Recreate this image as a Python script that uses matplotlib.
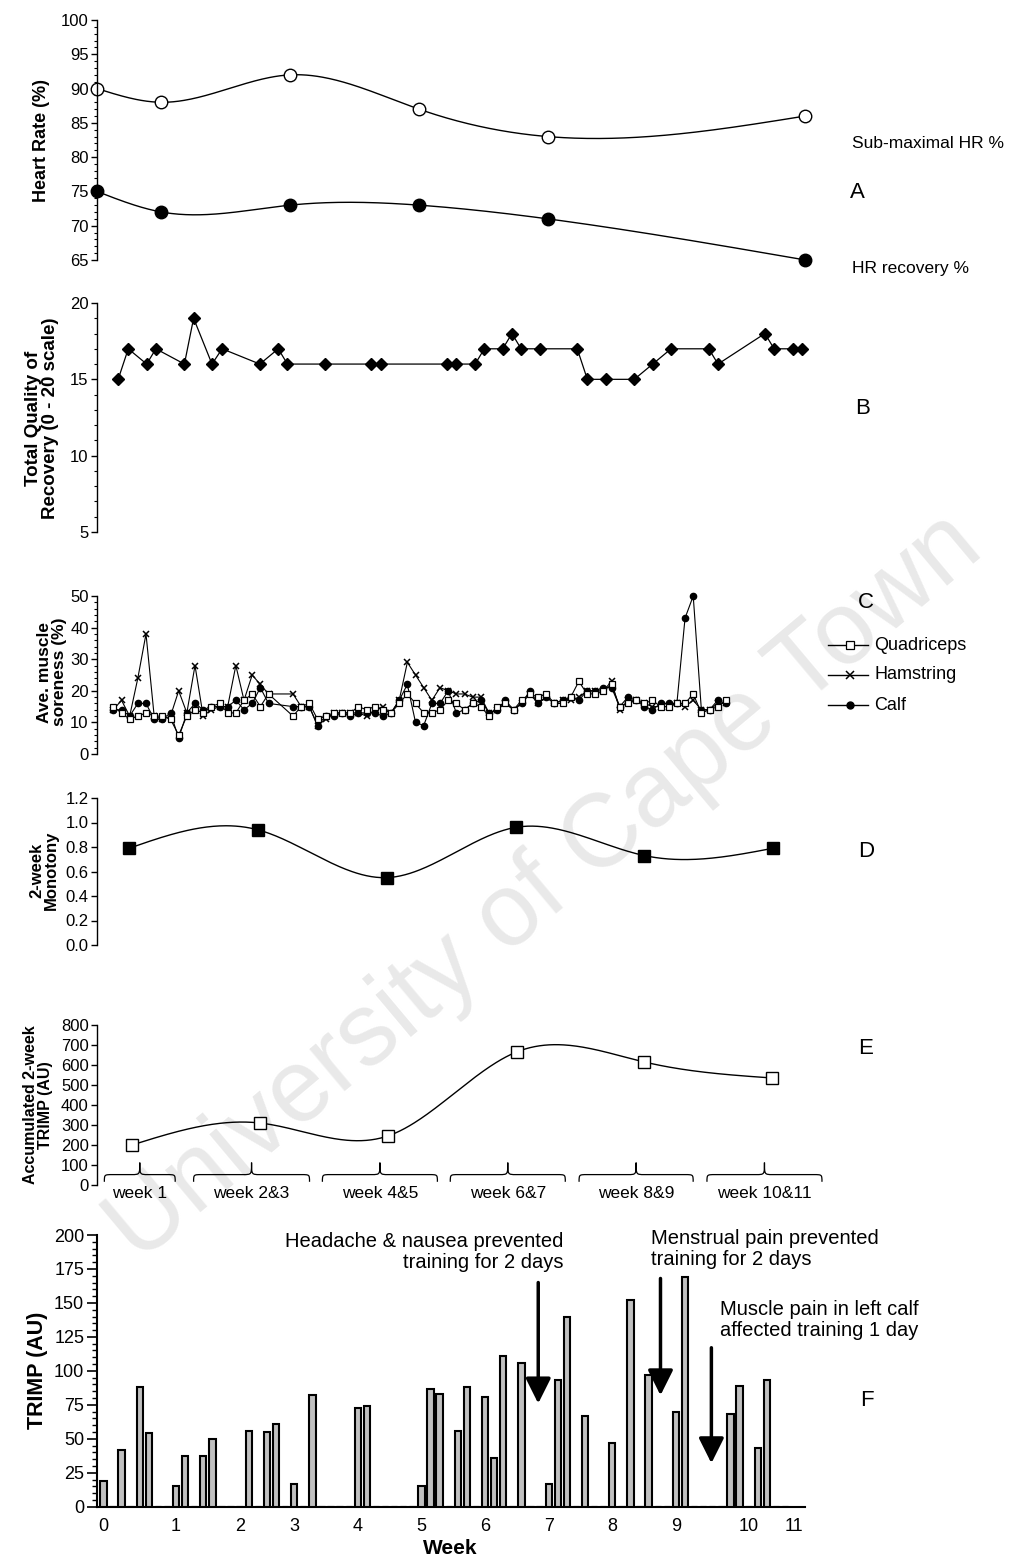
import numpy as np
import matplotlib
matplotlib.use('Agg')
import matplotlib.pyplot as plt
from matplotlib.path import Path
from matplotlib.patches import PathPatch
from matplotlib.ticker import MultipleLocator, FixedLocator, NullLocator
import matplotlib.transforms as mtransforms
from matplotlib.lines import Line2D

W, H = 1019, 1562
NARROW = ['Liberation Sans Narrow', 'Liberation Sans', 'DejaVu Sans']
SANS = ['Liberation Sans', 'DejaVu Sans']
plt.rcParams['font.family'] = SANS

# ---------------- data ----------------
# Panel A : heart rate tests (day of programme)
hr_days = [0, 7, 21, 35, 49, 77]
hr_submax = [90, 88, 92, 87, 83, 86]
hr_recovery = [75, 72, 73, 73, 71, 65]

# Panel B : total quality of recovery
tqr_days = [2.3, 3.4, 5.4, 6.4, 9.5, 10.5, 12.5, 13.6, 17.7, 19.7, 20.7, 24.8,
            29.8, 30.9, 38.0, 39.0, 41.1, 42.1, 44.1, 45.1, 46.1, 48.1, 52.2,
            53.3, 55.3, 58.4, 60.4, 62.4, 66.5, 67.5, 72.6, 73.6, 75.6, 76.6]
tqr_values = [15, 17, 16, 17, 16, 19, 16, 17, 16, 17, 16, 16, 16, 16, 16, 16, 16,
              17, 17, 18, 17, 17, 17, 15, 15, 15, 16, 17, 17, 16, 18, 17, 17, 17]

# Panel C : muscle soreness
sore_days = list(range(0, 20)) + list(range(22, 76))
quadriceps = [15, 13, 11, 12, 13, 12, 12, 11, 6, 12, 14, 13, 15, 16, 13, 13, 17, 19, 15, 19,
              12, 15, 16, 11, 12, 13, 13, 13, 15, 14, 15, 14, 13, 16, 19, 16, 13, 13, 14, 17,
              16, 14, 16, 15, 12, 15, 16, 14, 17, 19, 18, 19, 16, 16, 18, 23, 19, 19, 20, 22,
              15, 16, 17, 16, 17, 15, 15, 16, 16, 19, 13, 14, 15, 17]
hamstring = [14, 17, 12, 24, 38, 12, 11, 12, 20, 13, 28, 12, 14, 15, 15, 28, 17, 25, 22, 19,
             19, 15, 15, 9, 11, 13, 13, 13, 13, 12, 14, 15, 13, 17, 29, 25, 21, 17, 21, 20,
             19, 19, 18, 18, 13, 14, 16, 14, 16, 19, 16, 18, 16, 17, 17, 18, 20, 20, 20, 23,
             14, 17, 17, 16, 15, 15, 15, 16, 15, 17, 14, 14, 16, 16]
calf = [14, 14, 12, 16, 16, 11, 11, 13, 5, 13, 16, 14, 15, 15, 15, 17, 14, 16, 21, 16,
        15, 15, 15, 9, 12, 12, 13, 12, 13, 13, 13, 12, 13, 17, 22, 10, 9, 16, 16, 20,
        13, 14, 16, 17, 13, 14, 17, 14, 16, 20, 16, 18, 16, 17, 18, 17, 20, 20, 21, 21,
        15, 18, 17, 15, 14, 16, 16, 16, 43, 50, 14, 14, 17, 16]

# Panel D : 2-week monotony
mono_days = [3.5, 17.5, 31.5, 45.5, 59.5, 73.5]
monotony = [0.79, 0.94, 0.55, 0.96, 0.73, 0.79]

# Panel E : accumulated 2-week TRIMP
trimp2_days = [3.8, 17.7, 31.6, 45.6, 59.5, 73.4]
trimp2 = [200, 310, 245, 665, 615, 535]
block_labels = ['week 1', 'week 2&3', 'week 4&5', 'week 6&7', 'week 8&9', 'week 10&11']
block_spans = [(0.8, 8.5), (10.5, 23.1), (24.5, 37.0), (38.4, 50.9), (52.4, 64.8), (66.3, 78.8)]

# Panel F : daily TRIMP
day_slots = [0, 2, 4, 5, 8, 9, 11, 12, 16, 18, 19, 21, 23, 28, 29, 35, 36, 37, 39, 40,
             42, 43, 44, 46, 49, 50, 51, 53, 56, 58, 60, 63, 64, 69, 70, 72, 73]
daily_trimp = [19, 42, 88, 54, 15, 37, 37, 50, 56, 55, 61, 17, 82, 73, 74, 15, 87, 83, 56, 88,
               81, 36, 111, 106, 17, 93, 140, 67, 47, 152, 97, 70, 169, 68, 89, 43, 93]
n_slots = 76
week_tick_slots = [0, 8, 15, 21, 28, 35, 42, 49, 56, 63, 71, 76]
week_labels = ['0', '1', '2', '3', '4', '5', '6', '7', '8', '9', '10', '11']
events = ['Headache & nausea prevented\ntraining for 2 days',
          'Menstrual pain prevented\ntraining for 2 days',
          'Muscle pain in left calf\naffected training 1 day']


# ---------------- helpers ----------------
def rect(l, r, t, b):
    return [l / W, 1 - b / H, (r - l) / W, (b - t) / H]


def fx(x):
    return x / W


def fy(y):
    return 1 - y / H


def spline_curve(x, y, n=400):
    x = np.asarray(x, float)
    y = np.asarray(y, float)
    m = len(x)
    h = np.diff(x)
    A = np.zeros((m, m))
    r = np.zeros(m)
    A[0, 0] = A[-1, -1] = 1
    for i in range(1, m - 1):
        A[i, i - 1] = h[i - 1]
        A[i, i] = 2 * (h[i - 1] + h[i])
        A[i, i + 1] = h[i]
        r[i] = 6 * ((y[i + 1] - y[i]) / h[i] - (y[i] - y[i - 1]) / h[i - 1])
    M = np.linalg.solve(A, r)
    xs = np.linspace(x[0], x[-1], n)
    idx = np.clip(np.searchsorted(x, xs) - 1, 0, m - 2)
    x0 = x[idx]
    x1 = x[idx + 1]
    hh = x1 - x0
    t0 = x1 - xs
    t1 = xs - x0
    ys = ((M[idx] * t0 ** 3 + M[idx + 1] * t1 ** 3) / (6 * hh)
          + (y[idx] / hh - M[idx] * hh / 6) * t0
          + (y[idx + 1] / hh - M[idx + 1] * hh / 6) * t1)
    return xs, ys


def style_top(ax, ylim, major, minor=None):
    ax.set_xlim(0, 77.5)
    ax.set_ylim(*ylim)
    for s in ['top', 'right', 'bottom']:
        ax.spines[s].set_visible(False)
    ax.spines['left'].set_linewidth(1.0)
    ax.xaxis.set_major_locator(NullLocator())
    ax.yaxis.set_major_locator(MultipleLocator(major))
    if minor:
        ax.yaxis.set_minor_locator(MultipleLocator(minor))
    ax.tick_params(axis='y', which='major', direction='out', length=4.5, width=1,
                   labelsize=12, pad=1.5, labelfontfamily=NARROW)
    ax.tick_params(axis='y', which='minor', direction='out', length=2.5, width=0.8)
    ax.patch.set_visible(False)


fig = plt.figure(figsize=(W / 100, H / 100), dpi=100)

# watermark
fig.text(fx(545), fy(888), 'University of Cape Town', rotation=40, fontsize=74,
         color='#e9e9e9', ha='center', va='center', zorder=-10, family=SANS)

# ---------------- Panel A ----------------
axA = fig.add_axes(rect(97, 810, 20, 260))
style_top(axA, (65, 100), 5, 1)
xs, ys = spline_curve(hr_days, hr_submax)
axA.plot(xs, ys, color='k', lw=1, clip_on=False)
axA.plot(hr_days, hr_submax, ls='none', marker='o', ms=9, mfc='white', mec='k', mew=1, clip_on=False)
xs, ys = spline_curve(hr_days, hr_recovery)
axA.plot(xs, ys, color='k', lw=1, clip_on=False)
axA.plot(hr_days, hr_recovery, ls='none', marker='o', ms=9, mfc='black', mec='k', clip_on=False)
axA.yaxis.set_major_formatter(plt.FuncFormatter(lambda v, p: f'{v:.0f}'))

# ---------------- Panel B ----------------
axB = fig.add_axes(rect(97, 810, 303, 532))
style_top(axB, (5, 20), 5, 1)
axB.plot(tqr_days, tqr_values, color='k', lw=0.9, marker='D', ms=6.5, mfc='k', mec='k', clip_on=False)

# ---------------- Panel C ----------------
axC = fig.add_axes(rect(97, 810, 596, 754))
style_top(axC, (0, 50), 10, 2)
axC.set_xlim(-2.0, 85.3)
axC.plot(sore_days, hamstring, color='k', lw=0.8, marker='x', ms=5, mew=1.1, clip_on=False)
axC.plot(sore_days, calf, color='k', lw=0.8, marker='o', ms=4.5, mfc='k', mec='k', clip_on=False)
axC.plot(sore_days, quadriceps, color='k', lw=0.8, marker='s', ms=5, mfc='white', mec='k', mew=0.9, clip_on=False)

leg_rows = [('Quadriceps', dict(marker='s', ms=5.5, mfc='white', mec='k', mew=0.9)),
            ('Hamstring', dict(marker='x', ms=5.5, mew=1.1, color='k')),
            ('Calf', dict(marker='o', ms=5, mfc='k', mec='k'))]
for i, (lab, mk) in enumerate(leg_rows):
    yy = 645 + 30 * i
    fig.add_artist(Line2D([fx(828), fx(868)], [fy(yy), fy(yy)], transform=fig.transFigure,
                          color='k', lw=1))
    fig.add_artist(Line2D([fx(850)], [fy(yy)], transform=fig.transFigure, ls='none', **mk))
    fig.text(fx(874), fy(yy), lab, fontsize=13, va='center', ha='left', family=SANS)

# ---------------- Panel D ----------------
axD = fig.add_axes(rect(97, 810, 798, 945))
style_top(axD, (0, 1.2), 0.2)
axD.yaxis.set_major_formatter(plt.FuncFormatter(lambda v, p: f'{v:.1f}'))
xs, ys = spline_curve(mono_days, monotony)
axD.plot(xs, ys, color='k', lw=1)
axD.plot(mono_days, monotony, ls='none', marker='s', ms=9, mfc='k', mec='k')

# ---------------- Panel E ----------------
axE = fig.add_axes(rect(97, 810, 1025, 1185))
style_top(axE, (0, 800), 100)
xs, ys = spline_curve(trimp2_days, trimp2)
axE.plot(xs, ys, color='k', lw=1)
axE.plot(trimp2_days, trimp2, ls='none', marker='s', ms=9, mfc='white', mec='k', mew=1)

trE = mtransforms.blended_transform_factory(axE.transData, axE.transAxes)
y_end, y_h, y_tip = 0.02, 0.065, 0.14
for (a, b), lab in zip(block_spans, block_labels):
    m = (a + b) / 2
    r = 0.9
    verts = [(a, y_end), (a, y_h), (a, y_h), (a + r, y_h),
             (m - r, y_h),
             (m, y_h), (m, y_h), (m, y_tip),
             (m, y_h), (m, y_h), (m + r, y_h),
             (b - r, y_h),
             (b, y_h), (b, y_h), (b, y_end)]
    codes = [Path.MOVETO, Path.CURVE4, Path.CURVE4, Path.CURVE4,
             Path.LINETO,
             Path.CURVE4, Path.CURVE4, Path.CURVE4,
             Path.CURVE4, Path.CURVE4, Path.CURVE4,
             Path.LINETO,
             Path.CURVE4, Path.CURVE4, Path.CURVE4]
    axE.add_patch(PathPatch(Path(verts, codes), transform=trE, fill=False, lw=0.9,
                            edgecolor='k', clip_on=False))
    axE.text(m, -0.05, lab, transform=trE, ha='center', va='center', fontsize=12.5,
             family=NARROW)

# ---------------- Panel F ----------------
axF = fig.add_axes(rect(96.7, 805, 1235, 1506.7))
axF.patch.set_visible(False)
axF.set_xlim(-0.73, 77.2)
axF.set_ylim(0, 200)
for s in ['top', 'right']:
    axF.spines[s].set_visible(False)
for s in ['left', 'bottom']:
    axF.spines[s].set_linewidth(1.5)
zero_slots = [s for s in range(n_slots) if s not in day_slots]
axF.bar(zero_slots, [0] * len(zero_slots), width=0.7, bottom=0.6, edgecolor='#aaaaaa',
        facecolor='none', lw=1, zorder=1)
axF.bar(day_slots, daily_trimp, width=0.7, color='#c0c0c0', edgecolor='k', lw=1.5, zorder=3)
axF.yaxis.set_major_locator(MultipleLocator(25))
axF.yaxis.set_minor_locator(MultipleLocator(5))
axF.xaxis.set_major_locator(FixedLocator(week_tick_slots))
axF.set_xticklabels(week_labels)
axF.tick_params(axis='y', which='major', direction='out', length=7, width=1.2, labelsize=13, pad=2)
axF.tick_params(axis='y', which='minor', direction='out', length=3.5, width=1)
axF.tick_params(axis='x', length=0, labelsize=13, pad=8)

arrows = [(47.85, 165, 76), (61.3, 168, 82), (66.9, 117, 32)]
for xa, y0, y1 in arrows:
    axF.annotate('', xy=(xa, y1), xytext=(xa, y0),
                 arrowprops=dict(arrowstyle='-|>,head_length=0.7,head_width=0.35', color='k',
                                 lw=2.5, mutation_scale=22, shrinkA=0, shrinkB=0), zorder=5)

axF.text(50.6, 187.5, events[0], ha='right', va='center', fontsize=14.5, linespacing=1.15)
axF.text(60.3, 189.6, events[1], ha='left', va='center', fontsize=14.5, linespacing=1.15)
axF.text(67.8, 137.4, events[2], ha='left', va='center', fontsize=14.5, linespacing=1.15)

# ---------------- labels ----------------
fig.text(fx(42), fy(140), 'Heart Rate (%)', rotation=90, ha='center', va='center',
         fontsize=13, fontweight='bold')
fig.text(fx(42), fy(418), 'Total Quality of\nRecovery (0 - 20 scale)', rotation=90,
         ha='center', va='center', fontsize=13.5, fontweight='bold', linespacing=1.0)
fig.text(fx(52), fy(672), 'Ave. muscle\nsoreness (%)', rotation=90, ha='center', va='center',
         fontsize=12.5, fontweight='bold', linespacing=1.0)
fig.text(fx(44), fy(870), '2-week\nMonotony', rotation=90, ha='center', va='center',
         fontsize=12, fontweight='bold', linespacing=1.0)
fig.text(fx(38), fy(1105), 'Accumulated 2-week\nTRIMP (AU)', rotation=90, ha='center',
         va='center', fontsize=11.5, fontweight='bold', linespacing=1.0)
fig.text(fx(38), fy(1370), 'TRIMP (AU)', rotation=90, ha='center', va='center',
         fontsize=15.5, fontweight='bold')
fig.text(fx(450), fy(1548), 'Week', ha='center', va='center', fontsize=15, fontweight='bold')

fig.text(fx(852), fy(143), 'Sub-maximal HR %', ha='left', va='center', fontsize=12.5, family=NARROW)
fig.text(fx(852), fy(268), 'HR recovery %', ha='left', va='center', fontsize=12.5, family=NARROW)
for lab, (xx, yy, fam) in zip('ABCDEF', [(850, 193, NARROW), (855, 408, NARROW), (858, 603, SANS),
                                           (858, 852, NARROW), (858, 1048, NARROW), (860, 1400, SANS)]):
    fig.text(fx(xx), fy(yy), lab, ha='left', va='center', fontsize=16, family=fam)

fig.savefig('out.png', dpi=100)
